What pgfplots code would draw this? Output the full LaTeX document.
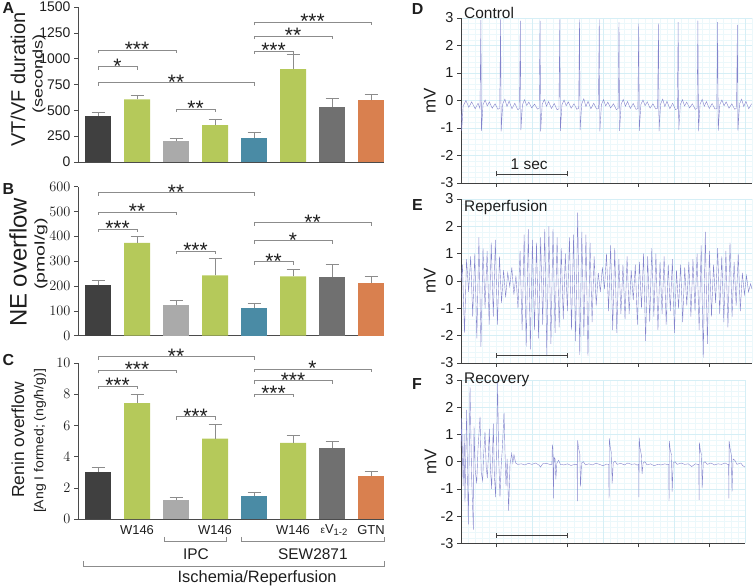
\documentclass[border=0pt]{standalone}
\usepackage{pgfplots}
\pgfplotsset{compat=1.18}
\usepackage{fontspec}
\setmainfont{Liberation Sans}

\definecolor{cDark}{RGB}{64,64,64}
\definecolor{cGreen}{RGB}{181,201,90}
\definecolor{cLight}{RGB}{170,170,170}
\definecolor{cTeal}{RGB}{74,139,165}
\definecolor{cMid}{RGB}{112,112,112}
\definecolor{cAx}{RGB}{75,75,75}
\definecolor{cOrange}{RGB}{217,128,79}
\definecolor{cErr}{RGB}{140,140,140}
\definecolor{cTrace}{RGB}{132,132,204}
\definecolor{gMin}{RGB}{236,248,251}
\definecolor{gMaj}{RGB}{214,239,246}
\definecolor{cTxt}{RGB}{30,30,30}

\pgfplotsset{
  barax/.style={
    anchor=south west, scale only axis, width=306bp,
    xmin=-0.513, xmax=7.333, ymin=0,
    axis x line*=bottom, axis y line*=left,
    axis line style={cAx, line width=0.6pt},
    xtick=\empty, tick align=outside, major tick length=4bp,
    tick style={cAx, line width=0.6pt},
    tick label style={font=\fontsize{14}{14}\selectfont, text=cTxt},
    clip=false, ybar, bar width=26bp,
  },
  b/.style={fill=#1, draw=none, bar shift=0pt,
    error bars/.cd, y dir=plus, y explicit,
    error bar style={cErr, line width=0.6pt},
    error mark options={cErr, line width=0.6pt, mark size=6.5bp, rotate=90}},
  ecg/.style={
    anchor=south west, scale only axis, width=291bp,
    xmin=0, xmax=4.1, ymin=-3, ymax=3,
    axis x line*=bottom, axis y line*=left,
    axis line style={cDark, line width=0.8pt},
    xtick={0.5,1.5,2.5,3.5}, xticklabels={},
    ytick={-3,...,3}, yticklabels={-3,-2,-1,0,1,2,3},
    tick align=outside, major tick length=4bp, minor tick length=0pt,
    tick style={cDark, line width=0.6pt},
    tick label style={font=\fontsize{14.5}{14.5}\selectfont, text=cTxt},
    minor xtick={0,0.1,...,4.1}, minor ytick={-3,-2.8,...,3},
    xminorgrids, yminorgrids, ymajorgrids,
    minor grid style={gMin, line width=0.4pt},
    major grid style={gMaj, line width=0.5pt},
    extra x ticks={1,2,3,4},
    extra x tick style={major tick length=0pt, grid=major, xticklabels={}},
    ylabel={mV},
    ylabel style={font=\fontsize{17}{17}\selectfont, text=cTxt, at={(axis description cs:-0.107,0.5)}, anchor=center},
    clip=false,
  },
}
\tikzset{
  brk/.style={cErr, line width=0.55pt},
  st/.style={font=\fontsize{21}{21}\selectfont, inner sep=0pt, anchor=base, yshift=-6.5bp, text=cTxt},
  lab/.style={font=\fontsize{13}{13}\selectfont, text=cTxt, inner sep=0pt},
  grp/.style={font=\fontsize{15.5}{15.5}\selectfont, text=cTxt, inner sep=0pt},
  trace/.style={cTrace, line width=0.4pt, mark=none},
  sbar/.style={cDark, line width=0.8pt},
}

\newcommand\br[4]{\draw[brk] ([yshift=-3bp]axis cs:#1,#3) -- (axis cs:#1,#3) -- node[st]{#4} (axis cs:#2,#3) -- ([yshift=-3bp]axis cs:#2,#3);}

\begin{document}
\begin{tikzpicture}
\path[use as bounding box] (0,0) rectangle (755bp,588bp);

% ---------- A ----------
\begin{axis}[barax, at={(78bp,426bp)}, height=155bp, ymax=1500,
  ytick={0,250,...,1500}, yticklabels={0,250,500,750,1000,1250,1500}]
\addplot[b=cDark] coordinates {(0,446) +- (0,32)};
\addplot[b=cGreen] coordinates {(1,607) +- (0,42) (3,357) +- (0,57) (5,899) +- (0,142)};
\addplot[b=cLight] coordinates {(2,202) +- (0,29)};
\addplot[b=cTeal] coordinates {(4,234) +- (0,55)};
\addplot[b=cMid] coordinates {(6,536) +- (0,81)};
\addplot[b=cOrange] coordinates {(7,597) +- (0,58)};
\br{0}{1}{922}{*}
\br{0}{2}{1083}{***}
\br{0}{4}{768}{**}
\br{2}{3}{511}{**}
\br{4}{5}{1076}{***}
\br{4}{6}{1217}{**}
\br{4}{7}{1352}{***}
\end{axis}

% ---------- B ----------
\begin{axis}[barax, at={(78bp,252.3bp)}, height=149bp, ymax=600,
  ytick={0,100,...,600}]
\addplot[b=cDark] coordinates {(0,203) +- (0,20)};
\addplot[b=cGreen] coordinates {(1,374) +- (0,26) (3,243) +- (0,68) (5,239) +- (0,28)};
\addplot[b=cLight] coordinates {(2,122) +- (0,20)};
\addplot[b=cTeal] coordinates {(4,111) +- (0,19)};
\addplot[b=cMid] coordinates {(6,238) +- (0,49)};
\addplot[b=cOrange] coordinates {(7,213) +- (0,25)};
\br{0}{4}{576}{**}
\br{0}{2}{499}{**}
\br{0}{1}{430}{***}
\br{2}{3}{341}{***}
\br{4}{7}{455}{**}
\br{4}{6}{383}{*}
\br{4}{5}{298}{**}
\end{axis}

% ---------- C ----------
\begin{axis}[barax, at={(78bp,69bp)}, height=156bp, ymax=10,
  ytick={0,2,...,10}]
\addplot[b=cDark] coordinates {(0,3.0) +- (0,0.3)};
\addplot[b=cGreen] coordinates {(1,7.43) +- (0,0.57) (3,5.15) +- (0,0.92) (5,4.88) +- (0,0.5)};
\addplot[b=cLight] coordinates {(2,1.22) +- (0,0.17)};
\addplot[b=cTeal] coordinates {(4,1.48) +- (0,0.23)};
\addplot[b=cMid] coordinates {(6,4.56) +- (0,0.39)};
\addplot[b=cOrange] coordinates {(7,2.74) +- (0,0.34)};
\br{0}{4}{10.4}{**}
\br{0}{2}{9.55}{***}
\br{0}{1}{8.53}{***}
\br{2}{3}{6.56}{***}
\br{4}{7}{9.6}{*}
\br{4}{6}{8.87}{***}
\br{4}{5}{8.01}{***}
\node[lab] at (axis cs:1,-0.705) {W146};
\node[lab] at (axis cs:3,-0.705) {W146};
\node[lab] at (axis cs:5,-0.705) {W146};
\node[lab] at (axis cs:6.05,-0.705) {{\fontsize{10}{10}\selectfont ε}V\raisebox{-1.5bp}{\fontsize{9.5}{9.5}\selectfont 1-2}};
\node[lab] at (axis cs:7,-0.705) {GTN};
\draw[brk] (axis cs:1.69,-1.15) -- (axis cs:1.69,-1.455) -- (axis cs:3.28,-1.455) -- (axis cs:3.28,-1.15);
\draw[brk] (axis cs:3.67,-1.15) -- (axis cs:3.67,-1.455) -- (axis cs:7.33,-1.455) -- (axis cs:7.33,-1.15);
\draw[brk] (axis cs:-0.39,-2.72) -- (axis cs:-0.39,-3.06) -- (axis cs:7.33,-3.06) -- (axis cs:7.33,-2.72);
\node[grp] at (axis cs:2.51,-2.24) {IPC};
\node[grp] at (axis cs:5.51,-2.24) {SEW2871};
\node[grp, font=\fontsize{16.5}{16.5}\selectfont] at (axis cs:4.08,-3.83) {Ischemia/Reperfusion};
\end{axis}

% y labels of the bar panels
\node[rotate=90, font=\fontsize{20}{20}\selectfont, text=cTxt] at (18bp,508.5bp) {VT/VF duration};
\node[rotate=90, font=\fontsize{14}{14}\selectfont, text=cTxt] at (39bp,514bp) {\scalebox{1.3}[1]{(seconds)}};
\node[rotate=90, font=\fontsize{24}{24}\selectfont, text=cTxt] at (18bp,325.5bp) {NE overflow};
\node[rotate=90, font=\fontsize{14}{14}\selectfont, text=cTxt] at (41bp,334bp) {\scalebox{1.4}[1]{(pmol/g)}};
\node[rotate=90, font=\fontsize{17.5}{17.5}\selectfont, text=cTxt] at (18bp,148bp) {Renin overflow};
\node[rotate=90, font=\fontsize{13}{13}\selectfont, text=cTxt] at (40bp,147bp) {\scalebox{1.08}[1]{[Ang I formed; (ng/h/g)]}};

% ---------- D ----------
\begin{axis}[ecg, at={(461bp,405bp)}, height=165bp]
\addplot[trace] coordinates {
(0.000,-0.10) (0.010,-1.10) (0.030,-0.20) (0.070,0.00) (0.110,-0.25) (0.150,-0.05) (0.200,-0.30) (0.240,-0.10)
(0.268,-0.30) (0.280,2.93) (0.288,-1.10) (0.310,-0.15) (0.340,0.02) (0.370,-0.20) (0.400,-0.05) (0.440,-0.28) (0.480,-0.12) (0.520,-0.32)
(0.546,-0.28) (0.558,2.95) (0.566,-1.12) (0.588,-0.12) (0.618,0.05) (0.648,-0.22) (0.678,-0.02) (0.718,-0.30) (0.758,-0.10) (0.798,-0.33)
(0.824,-0.30) (0.836,2.90) (0.844,-1.08) (0.866,-0.15) (0.896,0.03) (0.926,-0.18) (0.956,-0.06) (0.996,-0.27) (1.036,-0.13) (1.076,-0.31)
(1.102,-0.29) (1.114,2.90) (1.122,-1.12) (1.144,-0.14) (1.174,0.04) (1.204,-0.21) (1.234,-0.04) (1.274,-0.29) (1.314,-0.11) (1.354,-0.34)
(1.380,-0.30) (1.392,2.95) (1.400,-1.10) (1.422,-0.16) (1.452,0.02) (1.482,-0.19) (1.512,-0.05) (1.552,-0.28) (1.592,-0.12) (1.632,-0.32)
(1.658,-0.28) (1.670,2.95) (1.678,-1.08) (1.700,-0.13) (1.730,0.06) (1.760,-0.22) (1.790,-0.03) (1.830,-0.30) (1.870,-0.10) (1.910,-0.31)
(1.936,-0.30) (1.948,2.95) (1.956,-1.12) (1.978,-0.15) (2.008,0.03) (2.038,-0.20) (2.068,-0.06) (2.108,-0.27) (2.148,-0.12) (2.188,-0.33)
(2.214,-0.29) (2.226,2.85) (2.234,-1.10) (2.256,-0.14) (2.286,0.04) (2.316,-0.21) (2.346,-0.04) (2.386,-0.29) (2.426,-0.11) (2.466,-0.32)
(2.492,-0.30) (2.504,2.80) (2.512,-1.10) (2.534,-0.15) (2.564,0.02) (2.594,-0.19) (2.624,-0.05) (2.664,-0.28) (2.704,-0.12) (2.744,-0.31)
(2.770,-0.28) (2.782,2.80) (2.790,-1.12) (2.812,-0.13) (2.842,0.05) (2.872,-0.22) (2.902,-0.03) (2.942,-0.30) (2.982,-0.10) (3.022,-0.33)
(3.048,-0.30) (3.060,2.85) (3.068,-1.08) (3.090,-0.15) (3.120,0.03) (3.150,-0.20) (3.180,-0.06) (3.220,-0.27) (3.260,-0.12) (3.300,-0.32)
(3.326,-0.29) (3.338,2.90) (3.346,-1.12) (3.368,-0.14) (3.398,0.04) (3.428,-0.21) (3.458,-0.04) (3.498,-0.29) (3.538,-0.11) (3.578,-0.31)
(3.604,-0.30) (3.616,2.85) (3.624,-1.10) (3.646,-0.15) (3.676,0.02) (3.706,-0.19) (3.736,-0.05) (3.776,-0.28) (3.816,-0.12) (3.856,-0.32)
(3.882,-0.28) (3.894,2.75) (3.902,-1.10) (3.924,-0.13) (3.954,0.05) (3.984,-0.22) (4.014,-0.03) (4.054,-0.30) (4.094,-0.12)
};
\draw[sbar] (axis cs:0.5,-2.67) -- (axis cs:1.5,-2.67);
\draw[sbar] ([yshift=-2.5bp]axis cs:0.5,-2.67) -- ([yshift=2.5bp]axis cs:0.5,-2.67);
\draw[sbar] ([yshift=-2.5bp]axis cs:1.5,-2.67) -- ([yshift=2.5bp]axis cs:1.5,-2.67);
\node[font=\fontsize{15.5}{15.5}\selectfont, text=cTxt] at (axis cs:0.96,-2.32) {1 sec};
\node[anchor=west, inner sep=0pt, font=\fontsize{15.5}{15.5}\selectfont, text=cTxt] at (axis cs:0.042,3.19) {Control};
\end{axis}

% ---------- E ----------
\begin{axis}[ecg, at={(461bp,225bp)}, height=164bp]
\addplot[trace] coordinates {
(0.000,0.0) (0.020,0.6) (0.049,-1.9) (0.078,0.8) (0.107,-0.4) (0.136,0.9) (0.165,-1.3) (0.194,1.0) (0.223,-2.1)
(0.252,1.6) (0.281,-2.4) (0.310,1.2) (0.339,-1.0) (0.368,1.1) (0.397,-1.6) (0.426,1.4) (0.455,-1.3) (0.484,1.5) (0.513,-1.6)
(0.542,0.9) (0.571,-0.8) (0.600,0.4) (0.629,-0.6) (0.658,0.3) (0.687,-0.2) (0.716,0.5) (0.745,-0.5) (0.774,0.2) (0.803,-1.0)
(0.832,1.1) (0.861,-1.8) (0.890,1.7) (0.919,-2.4) (0.948,1.9) (0.977,-2.5) (1.006,1.5) (1.035,-1.8) (1.064,1.4) (1.093,-2.1)
(1.122,1.6) (1.151,-1.6) (1.180,1.9) (1.209,-2.7) (1.238,2.0) (1.267,-2.3) (1.296,1.9) (1.325,-1.9) (1.354,1.6) (1.383,-1.7)
(1.412,1.2) (1.441,-1.4) (1.470,1.0) (1.499,-1.1) (1.528,1.6) (1.557,-1.8) (1.586,1.7) (1.615,-2.2) (1.644,2.5) (1.673,-2.7)
(1.702,1.8) (1.731,-2.0) (1.760,1.7) (1.789,-2.75) (1.818,1.4) (1.847,-1.5) (1.876,0.9) (1.905,-0.9) (1.934,0.3) (1.963,-0.4)
(1.992,0.5) (2.021,-0.3) (2.050,1.0) (2.079,-1.1) (2.108,1.3) (2.137,-1.8) (2.166,1.2) (2.195,-1.9) (2.224,0.8) (2.253,-1.2)
(2.282,0.6) (2.311,-1.4) (2.340,0.9) (2.369,-1.2) (2.398,0.4) (2.427,-0.7) (2.456,0.6) (2.485,-1.6) (2.514,0.7) (2.543,-1.0)
(2.572,1.0) (2.601,-2.2) (2.630,0.9) (2.659,-1.5) (2.688,1.2) (2.717,-1.3) (2.746,1.0) (2.775,-1.8) (2.804,0.7) (2.833,-1.2)
(2.862,0.9) (2.891,-1.6) (2.920,0.6) (2.949,-1.1) (2.978,0.8) (3.007,-1.9) (3.036,0.4) (3.065,-1.0) (3.094,0.6) (3.123,-1.5)
(3.152,0.5) (3.181,-0.9) (3.210,0.7) (3.239,-1.3) (3.268,0.8) (3.297,-1.1) (3.326,1.0) (3.355,-1.8) (3.384,1.3) (3.413,-2.8)
(3.442,1.8) (3.471,-2.3) (3.500,1.1) (3.529,-1.3) (3.558,0.6) (3.587,-0.8) (3.616,1.2) (3.645,-1.2) (3.674,0.9) (3.703,-1.5)
(3.732,1.1) (3.761,-1.7) (3.790,1.4) (3.819,-1.3) (3.848,0.7) (3.877,-0.9) (3.906,1.0) (3.935,-1.1) (3.964,0.3) (3.993,-0.5)
(4.022,0.2) (4.051,-0.4) (4.080,-0.1) (4.100,-0.3)
};
\draw[sbar] (axis cs:0.5,-2.71) -- (axis cs:1.5,-2.71);
\draw[sbar] ([yshift=-2.5bp]axis cs:0.5,-2.71) -- ([yshift=2.5bp]axis cs:0.5,-2.71);
\draw[sbar] ([yshift=-2.5bp]axis cs:1.5,-2.71) -- ([yshift=2.5bp]axis cs:1.5,-2.71);
\node[anchor=west, inner sep=0pt, font=\fontsize{15.5}{15.5}\selectfont, text=cTxt] at (axis cs:0.042,2.70) {Reperfusion};
\end{axis}

% ---------- F ----------
\begin{axis}[ecg, at={(461bp,44.7bp)}, height=163.3bp, width=284bp, xmax=4.0, minor xtick={0,0.1,...,4.0}]
\addplot[trace] coordinates {
(0.000,0.5) (0.010,1.6) (0.030,-0.9) (0.045,1.0) (0.056,-1.5) (0.068,0.4) (0.080,1.9) (0.092,-0.5) (0.103,-2.3) (0.115,0.2)
(0.127,2.75) (0.150,-0.6) (0.174,-2.5) (0.183,1.3) (0.200,-0.3) (0.221,-0.8) (0.240,0.5) (0.268,1.65) (0.285,-0.4) (0.305,-0.7)
(0.320,0.3) (0.338,1.1) (0.355,-0.2) (0.371,-0.6) (0.385,0.2) (0.399,1.2) (0.415,-0.3) (0.432,-1.0) (0.445,0.4) (0.455,1.4)
(0.470,-0.5) (0.488,-1.3) (0.500,0.5) (0.516,2.9) (0.530,0.2) (0.549,-1.3) (0.565,-0.2) (0.580,0.4) (0.606,1.8) (0.620,0.3)
(0.634,-0.9) (0.650,0.1) (0.671,-1.8) (0.690,-0.1) (0.714,0.3) (0.730,-0.05) (0.746,0.25) (0.770,-0.05) (0.800,-0.10)
(0.850,-0.08) (0.900,-0.12) (0.950,-0.06) (1.000,-0.10) (1.050,-0.05) (1.100,-0.13) (1.120,-0.20) (1.150,-0.08) (1.200,-0.06) (1.250,-0.10)
(1.280,-0.10) (1.286,0.62) (1.296,0.45) (1.300,-1.35) (1.312,0.15) (1.325,0.10) (1.336,-0.65) (1.350,-0.05) (1.375,0.05) (1.400,-0.10)
(1.450,-0.12) (1.500,-0.08) (1.550,-0.14) (1.600,-0.10)
(1.635,-0.10) (1.639,-1.45) (1.643,0.78) (1.655,0.50) (1.673,0.30) (1.683,-0.92) (1.698,-0.05) (1.723,0.00) (1.753,-0.12)
(1.800,-0.08) (1.850,-0.12) (1.900,-0.06) (1.950,-0.10) (2.000,-0.15) (2.050,-0.09)
(2.081,-0.10) (2.085,-1.35) (2.089,0.85) (2.101,0.55) (2.119,0.30) (2.129,-0.80) (2.144,-0.05) (2.169,0.02) (2.199,-0.10)
(2.250,-0.06) (2.300,-0.12) (2.350,-0.05) (2.400,-0.10) (2.450,-0.08) (2.480,-0.13)
(2.502,-0.10) (2.506,-1.30) (2.510,0.88) (2.522,0.50) (2.540,0.25) (2.550,-0.45) (2.565,-0.05) (2.590,0.00) (2.620,-0.12)
(2.670,-0.08) (2.720,-0.15) (2.770,-0.10) (2.820,-0.12) (2.870,-0.08) (2.910,-0.11)
(2.926,-0.10) (2.930,-1.45) (2.934,0.75) (2.946,0.45) (2.964,0.25) (2.974,-1.10) (2.989,-0.05) (3.014,0.00) (3.044,-0.10)
(3.100,-0.05) (3.150,-0.10) (3.200,-0.08) (3.250,-0.18) (3.300,-0.08) (3.335,-0.10)
(3.349,-0.10) (3.353,-1.40) (3.357,0.70) (3.369,0.45) (3.387,0.25) (3.397,-0.95) (3.412,-0.05) (3.437,0.00) (3.467,-0.10)
(3.520,-0.05) (3.570,-0.12) (3.620,-0.08) (3.670,-0.10) (3.720,-0.05) (3.755,-0.10)
(3.769,-0.10) (3.773,-1.35) (3.777,0.75) (3.789,0.50) (3.807,0.25) (3.817,-1.10) (3.832,0.10) (3.857,0.05) (3.887,-0.10)
(3.940,-0.05) (3.970,-0.15) (4.000,-0.20)
};
\draw[sbar] (axis cs:0.5,-2.72) -- (axis cs:1.5,-2.72);
\draw[sbar] ([yshift=-2.5bp]axis cs:0.5,-2.72) -- ([yshift=2.5bp]axis cs:0.5,-2.72);
\draw[sbar] ([yshift=-2.5bp]axis cs:1.5,-2.72) -- ([yshift=2.5bp]axis cs:1.5,-2.72);
\node[anchor=west, inner sep=0pt, font=\fontsize{15.5}{15.5}\selectfont, text=cTxt] at (axis cs:0.042,3.0) {Recovery};
\end{axis}

% panel letters
\node[font=\bfseries\fontsize{16}{16}\selectfont, text=cTxt] at (8.5bp,579.5bp) {A};
\node[font=\bfseries\fontsize{16}{16}\selectfont, text=cTxt] at (8.5bp,399bp) {B};
\node[font=\bfseries\fontsize{16}{16}\selectfont, text=cTxt] at (8.5bp,228bp) {C};
\node[font=\bfseries\fontsize{16}{16}\selectfont, text=cTxt] at (417.5bp,578.5bp) {D};
\node[font=\bfseries\fontsize{16}{16}\selectfont, text=cTxt] at (417.5bp,382.5bp) {E};
\node[font=\bfseries\fontsize{16}{16}\selectfont, text=cTxt] at (417bp,204bp) {F};
\end{tikzpicture}
\end{document}
